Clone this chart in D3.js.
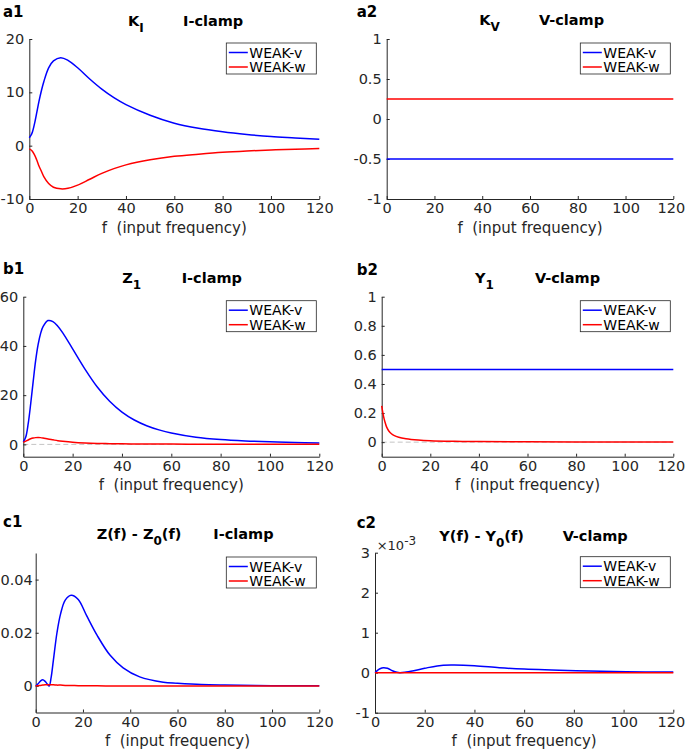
<!DOCTYPE html>
<html>
<head>
<meta charset="utf-8">
<script src="https://cdn.jsdelivr.net/npm/d3@7"></script>
<style>
  body { margin: 0; background: #fff; }
  text { font-family: "DejaVu Sans", "Liberation Sans", Arial, sans-serif; }
</style>
</head>
<body>
<div id="chart"></div>
<script>
// ---- data ----
const xTicks = [0, 20, 40, 60, 80, 100, 120]
const seriesNames = ['WEAK-v', 'WEAK-w']

// a1: K_I, I-clamp
const kiFreq = [0, 1, 2, 3, 4, 5, 6, 8, 10, 13, 16, 20, 25, 30, 35, 40, 50, 60, 70, 80, 90, 100, 110, 120]
const kiV = [1.5, 2.2, 3.8, 6, 8.3, 10.3, 12, 14.6, 15.9, 16.5, 16, 14.6, 12.5, 10.6, 9.0, 7.7, 5.7, 4.2, 3.25, 2.6, 2.1, 1.7, 1.45, 1.2]
const kiW = [-0.6, -0.9, -1.6, -2.6, -3.8, -4.8, -5.8, -7.1, -7.8, -8.1, -8, -7.4, -6.3, -5.2, -4.3, -3.6, -2.65, -2.0, -1.6, -1.25, -1.0, -0.8, -0.65, -0.55]
const kiTicks = [-10, 0, 10, 20]

// a2: K_V, V-clamp
const kvFreq = [0, 120]
const kvV = [-0.5, -0.5]
const kvW = [0.25, 0.25]
const kvTicks = [-1, -0.5, 0, 0.5, 1]

// b1: Z_1, I-clamp
const z1Freq = [0, 1, 2, 3, 4, 5, 6, 7, 8, 10, 12, 14, 16, 20, 25, 30, 35, 40, 45, 50, 55, 60, 70, 80, 90, 100, 110, 120]
const z1V = [1, 3, 8.5, 16.5, 25.5, 34, 40.5, 45, 47.8, 50.3, 49.9, 48, 45.3, 38.8, 30.6, 23.3, 17.5, 13.1, 9.9, 7.6, 5.9, 4.6, 2.9, 1.95, 1.4, 1.05, 0.8, 0.6]
const z1W = [0.8, 1.3, 1.8, 2.3, 2.6, 2.75, 2.8, 2.75, 2.6, 2.2, 1.85, 1.5, 1.25, 0.85, 0.55, 0.38, 0.3, 0.22, 0.18, 0.15, 0.13, 0.11, 0.09, 0.07, 0.06, 0.05, 0.05, 0.04]
const z1Ticks = [0, 20, 40, 60]

// b2: Y_1, V-clamp
const y1Freq = [0, 0.5, 1, 1.5, 2, 3, 4, 5, 7, 10, 15, 20, 30, 40, 60, 80, 100, 120]
const y1V = [0.5, 0.5, 0.5, 0.5, 0.5, 0.5, 0.5, 0.5, 0.5, 0.5, 0.5, 0.5, 0.5, 0.5, 0.5, 0.5, 0.5, 0.5]
const y1W = [0.25, 0.2, 0.16, 0.13, 0.105, 0.075, 0.058, 0.047, 0.034, 0.024, 0.015, 0.01, 0.006, 0.004, 0.002, 0.0015, 0.001, 0.001]
const y1Ticks = [0, 0.2, 0.4, 0.6, 0.8, 1]

// c1: Z(f) - Z0(f), I-clamp
const dzFreq = [0, 1, 2, 3, 4, 5, 5.7, 6.5, 7.5, 9, 10.5, 12.5, 15, 18, 21.5, 26, 31.5, 37, 44, 54, 60, 70, 80, 100, 120]
const dzV = [0, 0.0008, 0.0018, 0.0023, 0.0017, 0.0006, 0, 0.003, 0.0098, 0.02, 0.027, 0.0323, 0.0341, 0.0325, 0.0265, 0.019, 0.0115, 0.0068, 0.0034, 0.0014, 0.001, 0.0005, 0.0003, 0.0001, 0.00005]
const dzW = [0, 0.0001, 0.0002, 0.0003, 0.0004, 0.0004, 0.0004, 0.0004, 0.0004, 0.0003, 0.0003, 0.0002, 0.0002, 0.0001, 0.0001, 0.00005, 0, 0, 0, 0, 0, 0, 0, 0, 0]
const dzTicks = [0, 0.02, 0.04]

// c2: Y(f) - Y0(f), V-clamp  (values in units of 1e-3)
const dyFreq = [0, 1, 2, 3.4, 5, 7, 8.8, 10, 12, 15.6, 20, 25, 30.6, 40, 50, 60, 81, 101, 120]
const dyV = [0, 0.06, 0.1, 0.125, 0.11, 0.05, 0.01, 0, 0.01, 0.05, 0.11, 0.17, 0.19, 0.175, 0.125, 0.09, 0.05, 0.025, 0.015]
const dyW = [0, 0, 0, 0, 0, 0, 0, 0, 0, 0, 0, 0, 0, 0, 0, 0, 0, 0, 0]
const dyTicks = [-1, 0, 1, 2, 3]

const colors = ['#0000ff', '#ff0000']
const axisColor = '#262626'

// ---- layout ----
const panels = [
  { label: 'a1', lx: 3, ly: 16.7, l: 29.3, r: 319.3, t: 39, b: 199, ydom: [-10, 20], yticks: kiTicks,
    title: { x: 128, y: 26, main: 'K', sub: 'I', after: '', cx: 183, clamp: 'I-clamp' },
    freq: kiFreq, vals: [kiV, kiW] },
  { label: 'a2', lx: 356.7, ly: 16.7, l: 386.7, r: 673.3, t: 39, b: 199, ydom: [-1, 1], yticks: kvTicks,
    title: { x: 479.3, y: 25, main: 'K', sub: 'V', after: '', cx: 539, clamp: 'V-clamp' },
    freq: kvFreq, vals: [kvV, kvW] },
  { label: 'b1', lx: 3, ly: 274, l: 23.3, r: 319.3, t: 296.7, b: 456.7, ydom: [-5, 60], yticks: z1Ticks, zero: true,
    title: { x: 122.3, y: 283.3, main: 'Z', sub: '1', after: '', cx: 181.7, clamp: 'I-clamp' },
    freq: z1Freq, vals: [z1V, z1W] },
  { label: 'b2', lx: 356.7, ly: 275, l: 381.7, r: 673.3, t: 296.7, b: 456.7, ydom: [-0.1, 1], yticks: y1Ticks, zero: true,
    title: { x: 475, y: 283.3, main: 'Y', sub: '1', after: '', cx: 535, clamp: 'V-clamp' },
    freq: y1Freq, vals: [y1V, y1W] },
  { label: 'c1', lx: 3, ly: 527.3, l: 35.7, r: 319.3, t: 553, b: 712.5, ydom: [-0.01, 0.05], yticks: dzTicks, pad: 3,
    title: { x: 96.7, y: 539.3, main: 'Z(f) - Z', sub: '0', after: '(f)', cx: 213.3, clamp: 'I-clamp' },
    freq: dzFreq, vals: [dzV, dzW] },
  { label: 'c2', lx: 356.7, ly: 528.3, l: 375, r: 673.3, t: 552.7, b: 712.7, ydom: [-1, 3], yticks: dyTicks, exp: true,
    title: { x: 439.3, y: 540.7, main: 'Y(f) - Y', sub: '0', after: '(f)', cx: 562.7, clamp: 'V-clamp' },
    freq: dyFreq, vals: [dyV, dyW] }
]

const svg = d3.select('#chart').append('svg')
  .attr('width', 685).attr('height', 752)

// plain hyphen for negatives, like the original
function fmt(v) {
  return d3.format('~g')(+v.toFixed(6)).replace('\u2212', '-')
}

function drawPanel(p) {
  const x = d3.scaleLinear().domain([0, 120]).range([p.l, p.r])
  const y = d3.scaleLinear().domain(p.ydom).range([p.b, p.t])
  const g = svg.append('g')

  if (p.zero) {
    g.append('line')
      .attr('x1', x(0)).attr('x2', x(120))
      .attr('y1', y(0)).attr('y2', y(0))
      .attr('stroke', '#c4c4c4').attr('stroke-width', 1)
      .attr('stroke-dasharray', '5,3')
  }

  const xa = g.append('g')
    .attr('transform', 'translate(0,' + p.b + ')')
    .call(d3.axisBottom(x).tickValues(xTicks).tickSizeInner(-3).tickSizeOuter(0).tickPadding(4))
  const ya = g.append('g')
    .attr('transform', 'translate(' + p.l + ',0)')
    .call(d3.axisLeft(y).tickValues(p.yticks).tickSizeInner(-3).tickSizeOuter(0).tickPadding(p.pad || 5)
      .tickFormat(fmt))
  ;[xa, ya].forEach(a => a.attr('color', axisColor).attr('font-size', 14.5)
    .attr('font-family', '"DejaVu Sans", "Liberation Sans", Arial, sans-serif'))
  // keep the last x label inside the page on the right-hand panels
  if (p.r > 660) {
    xa.selectAll('.tick text').filter(d => d === 120).attr('dx', -2.5)
  }

  const line = d3.line()
    .x(d => x(d[0])).y(d => y(d[1]))
    .curve(d3.curveCatmullRom.alpha(0.5))

  p.vals.forEach((vals, i) => {
    g.append('path')
      .datum(p.freq.map((f, j) => [f, vals[j]]))
      .attr('d', line)
      .attr('fill', 'none')
      .attr('stroke', colors[i])
      .attr('stroke-width', 1.5)
  })

  // x label
  g.append('text')
    .attr('x', (p.l + p.r) / 2).attr('y', p.b + 33.5)
    .attr('text-anchor', 'middle').attr('font-size', 15).attr('fill', axisColor)
    .style('white-space', 'pre')
    .text('f  (input frequency)')

  // title
  const tt = g.append('text')
    .attr('x', p.title.x).attr('y', p.title.y)
    .attr('font-size', 14.5).attr('font-weight', 'bold').attr('fill', '#000')
  tt.append('tspan').text(p.title.main)
  tt.append('tspan').attr('dy', 6).attr('font-size', 12).text(p.title.sub)
  if (p.title.after) tt.append('tspan').attr('dy', -6).text(p.title.after)
  g.append('text')
    .attr('x', p.title.cx).attr('y', p.title.y)
    .attr('font-size', 14.5).attr('font-weight', 'bold').attr('fill', '#000')
    .text(p.title.clamp)

  // panel label
  g.append('text')
    .attr('x', p.lx).attr('y', p.ly)
    .attr('font-size', 15).attr('font-weight', 'bold').attr('fill', '#000')
    .text(p.label)

  if (p.exp) {
    const e = g.append('text')
      .attr('x', p.l + 1.7).attr('y', p.t - 3)
      .attr('font-size', 13).attr('fill', axisColor)
    e.append('tspan').text('\u00d710')
    e.append('tspan').attr('dy', -5).attr('font-size', 12).text('-3')
  }

  // legend
  const lw = 90, lh = 31
  const lg = g.append('g').attr('transform', 'translate(' + (p.r - 3 - lw) + ',' + (p.t + 4) + ')')
  lg.append('rect').attr('width', lw).attr('height', lh)
    .attr('fill', '#fff').attr('stroke', axisColor).attr('stroke-width', 0.8)
  seriesNames.forEach((name, i) => {
    const yy = 9.5 + i * 14.5
    lg.append('line').attr('x1', 2.5).attr('x2', 21.5).attr('y1', yy).attr('y2', yy)
      .attr('stroke', colors[i]).attr('stroke-width', 1.5)
    lg.append('text').attr('x', 23).attr('y', yy).attr('dy', '0.36em')
      .attr('font-size', 14).attr('fill', '#000').text(name)
  })
}

panels.forEach(drawPanel)
</script>
</body>
</html>
